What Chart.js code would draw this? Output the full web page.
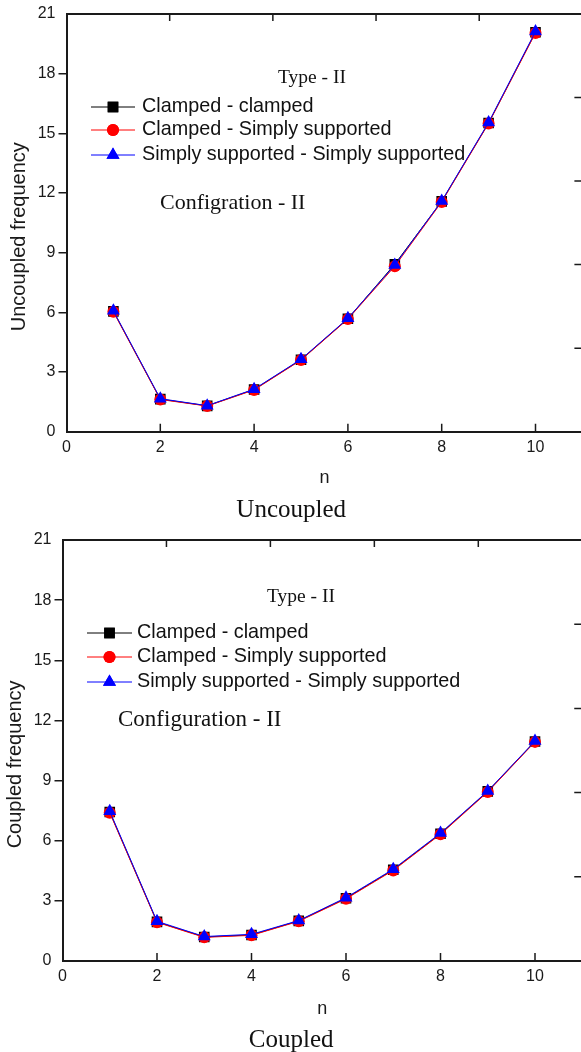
<!DOCTYPE html>
<html>
<head>
<meta charset="utf-8">
<title>Uncoupled / Coupled frequency</title>
<script src="https://cdn.jsdelivr.net/npm/chart.js@4.4.1/dist/chart.umd.min.js"></script>
<style>
    html, body { margin: 0; padding: 0; background: #fff; overflow: hidden; }
    .box { position: relative; width: 581px; overflow: hidden; }
    #topbox { height: 525px; }
    #bottombox { height: 527px; }
    .box canvas { position: absolute; left: 0; top: 0; }
</style>
</head>
<body>
<div class="box" id="topbox"><canvas id="uncoupledchart" width="600" height="525"></canvas></div>
<div class="box" id="bottombox"><canvas id="coupledchart" width="600" height="530"></canvas></div>
<script>
// data
var nValues = [1, 2, 3, 4, 5, 6, 7, 8, 9, 10];
var xTickValues = [0, 2, 4, 6, 8, 10];
var yTickValues = [0, 3, 6, 9, 12, 15, 18, 21];
var seriesNames = ['Clamped - clamped', 'Clamped - Simply supported', 'Simply supported - Simply supported'];

var uncoupledCC = [6.05, 1.64, 1.30, 2.12, 3.62, 5.68, 8.42, 11.58, 15.52, 20.08];
var uncoupledCS = [6.03, 1.62, 1.29, 2.10, 3.60, 5.66, 8.32, 11.55, 15.50, 20.05];
var uncoupledSS = [6.08, 1.66, 1.31, 2.14, 3.64, 5.70, 8.38, 11.60, 15.55, 20.12];

var coupledCC = [7.43, 1.95, 1.20, 1.30, 2.00, 3.13, 4.55, 6.35, 8.46, 10.95];
var coupledCS = [7.40, 1.93, 1.18, 1.28, 1.98, 3.10, 4.52, 6.32, 8.43, 10.93];
var coupledSS = [7.47, 1.98, 1.22, 1.33, 2.02, 3.16, 4.58, 6.38, 8.48, 10.97];

var frameDivisions = 5; // minor frame ticks on top / right
var axisColor = '#1a1a1a';
var titleShift = '\u00a0\u00a0\u00a0\u00a0\u00a0'; // the axis titles sit a bit below centre

function toPoints(vals) {
    return vals.map(function(v, i) { return {x: nValues[i], y: v}; });
}

function drawMarker(ctx, style, r, x, y) {
    if (Chart.helpers && Chart.helpers.drawPoint) {
        Chart.helpers.drawPoint(ctx, {pointStyle: style, radius: r, rotation: 0, borderWidth: 0}, x, y);
        ctx.fill();
        return;
    }
    ctx.beginPath();
    if (style == 'rect') {
        var s = r * Math.SQRT1_2;
        ctx.rect(x - s, y - s, 2 * s, 2 * s);
    } else if (style == 'triangle') {
        ctx.moveTo(x, y - r);
        ctx.lineTo(x + r * 0.866, y + r / 2);
        ctx.lineTo(x - r * 0.866, y + r / 2);
        ctx.closePath();
    } else {
        ctx.arc(x, y, r, 0, Math.PI * 2);
    }
    ctx.fill();
}

// inward frame ticks, legend and the two notes
var framePlugin = {
    id: 'frame',
    afterDraw: function(chart) {
        var o = chart.options.plugins.frame;
        var ctx = chart.ctx;
        var area = chart.chartArea;
        ctx.save();
        ctx.strokeStyle = axisColor;
        ctx.lineWidth = 1.5;
        ctx.beginPath();
        xTickValues.forEach(function(v) {
            if (v === 0) return;
            var px = chart.scales.x.getPixelForValue(v);
            ctx.moveTo(px, area.bottom);
            ctx.lineTo(px, area.bottom - 8);
        });
        for (var i = 1; i < frameDivisions; i++) {
            var tx = chart.scales.xTop.getPixelForValue(i);
            ctx.moveTo(tx, area.top);
            ctx.lineTo(tx, area.top + 7);
            var ry = chart.scales.yRight.getPixelForValue(i);
            ctx.moveTo(area.right, ry);
            ctx.lineTo(area.right - 8, ry);
        }
        ctx.stroke();

        // legend
        ctx.font = o.legendFont;
        ctx.textBaseline = 'middle';
        ctx.textAlign = 'left';
        chart.data.datasets.forEach(function(ds, i) {
            var y = o.legendRows[i];
            ctx.strokeStyle = ds.borderColor;
            ctx.lineWidth = 1;
            ctx.beginPath();
            ctx.moveTo(o.legendLine[0], y);
            ctx.lineTo(o.legendLine[1], y);
            ctx.stroke();
            ctx.fillStyle = ds.pointBackgroundColor;
            drawMarker(ctx, ds.pointStyle, ds.pointRadius, (o.legendLine[0] + o.legendLine[1]) / 2, y);
            ctx.fillStyle = '#111';
            ctx.fillText(ds.label, o.legendText, y);
        });

        // notes
        ctx.fillStyle = '#111';
        o.notes.forEach(function(n) {
            ctx.font = n.font;
            ctx.fillText(n.text, n.x, n.y);
        });
        ctx.restore();
    }
};

function makeChart(id, sets, yTitle, caption, geo) {
    var ctx = document.getElementById(id).getContext('2d');
    return new Chart(ctx, {
        type: 'line',
        data: {
            datasets: [{
                label: seriesNames[0],
                data: toPoints(sets[0]),
                borderColor: '#000000',
                pointBackgroundColor: '#000000',
                pointStyle: 'rect',
                pointRadius: 7.5,
                order: 3
            }, {
                label: seriesNames[1],
                data: toPoints(sets[1]),
                borderColor: '#ff0000',
                pointBackgroundColor: '#ff0000',
                pointStyle: 'circle',
                pointRadius: 6,
                order: 2
            }, {
                label: seriesNames[2],
                data: toPoints(sets[2]),
                borderColor: '#0000ff',
                pointBackgroundColor: '#0000ff',
                pointStyle: 'triangle',
                pointRadius: 7.5,
                order: 1
            }].map(function(d) {
                d.borderWidth = 1;
                d.pointBorderWidth = 0;
                d.pointBorderColor = d.borderColor;
                d.tension = 0;
                d.fill = false;
                return d;
            })
        },
        options: {
            responsive: false,
            animation: false,
            devicePixelRatio: 1,
            layout: { padding: { left: 0, top: geo.top, right: 600 - geo.right, bottom: 0 } },
            plugins: {
                legend: { display: false },
                tooltip: { enabled: false },
                title: {
                    display: true,
                    position: 'bottom',
                    text: caption,
                    color: '#111',
                    font: { family: 'Liberation Serif', size: 25, weight: 'normal' },
                    padding: { top: 0, bottom: 0 }
                },
                frame: geo.frame
            },
            scales: {
                x: {
                    type: 'linear',
                    position: 'bottom',
                    min: 0,
                    max: 11,
                    afterBuildTicks: function(s) { s.ticks = xTickValues.map(function(v) { return {value: v}; }); },
                    afterFit: function(s) { s.height = geo.xHeight; },
                    grid: { display: false, drawTicks: false },
                    border: { display: true, color: axisColor, width: 2 },
                    ticks: { color: axisColor, font: { family: 'Liberation Sans', size: 16 }, padding: 6, maxRotation: 0 },
                    title: { display: true, text: 'n', color: axisColor, font: { family: 'Liberation Sans', size: 18 }, padding: { top: 0, bottom: geo.nPad } }
                },
                y: {
                    type: 'linear',
                    position: 'left',
                    min: 0,
                    max: 21,
                    afterBuildTicks: function(s) { s.ticks = yTickValues.map(function(v) { return {value: v}; }); },
                    afterFit: function(s) { s.width = geo.left; },
                    grid: {
                        display: true,
                        drawOnChartArea: false,
                        drawTicks: true,
                        tickLength: 8,
                        lineWidth: 1.5,
                        color: function(c) { return (c.tick && (c.tick.value === 0 || c.tick.value === 21)) ? 'rgba(0,0,0,0)' : axisColor; }
                    },
                    border: { display: true, color: axisColor, width: 2 },
                    ticks: { color: axisColor, font: { family: 'Liberation Sans', size: 16 }, padding: 3 },
                    title: { display: true, text: yTitle + titleShift, color: axisColor, font: { family: 'Liberation Sans', size: 20 }, padding: { top: geo.yTitlePad, bottom: 0 } }
                },
                xTop: {
                    type: 'linear',
                    position: 'top',
                    min: 0,
                    max: frameDivisions,
                    afterFit: function(s) { s.height = 0; },
                    grid: { display: false, drawTicks: false },
                    ticks: { display: false },
                    border: { display: true, color: axisColor, width: 2 }
                },
                yRight: {
                    type: 'linear',
                    position: 'right',
                    min: 0,
                    max: frameDivisions,
                    afterFit: function(s) { s.width = 0; },
                    grid: { display: false, drawTicks: false },
                    ticks: { display: false },
                    border: { display: true, color: axisColor, width: 2 }
                }
            }
        },
        plugins: [framePlugin]
    });
}

var uncoupledChart = makeChart('uncoupledchart', [uncoupledCC, uncoupledCS, uncoupledSS],
    'Uncoupled frequency', 'Uncoupled', {
        top: 14, right: 582.4, left: 66.5, xHeight: 63.3, nPad: 6, yTitlePad: 7,
        frame: {
            legendFont: '19.8px "Liberation Sans"',
            legendRows: [107, 130, 155],
            legendLine: [91, 135],
            legendText: 142,
            notes: [
                { text: 'Type - II', x: 278, y: 78, font: '19.5px "Liberation Serif"' },
                { text: 'Configration - II', x: 160, y: 203, font: '22px "Liberation Serif"' }
            ]
        }
    });

var coupledChart = makeChart('coupledchart', [coupledCC, coupledCS, coupledSS],
    'Coupled frequency', 'Coupled', {
        top: 15, right: 582.25, left: 62.5, xHeight: 64, nPad: 5, yTitlePad: 3,
        frame: {
            legendFont: '19.8px "Liberation Sans"',
            legendRows: [108, 132, 157],
            legendLine: [87, 132],
            legendText: 137,
            notes: [
                { text: 'Type - II', x: 267, y: 72, font: '19.5px "Liberation Serif"' },
                { text: 'Configuration - II', x: 118, y: 195, font: '23px "Liberation Serif"' }
            ]
        }
    });
</script>
</body>
</html>
